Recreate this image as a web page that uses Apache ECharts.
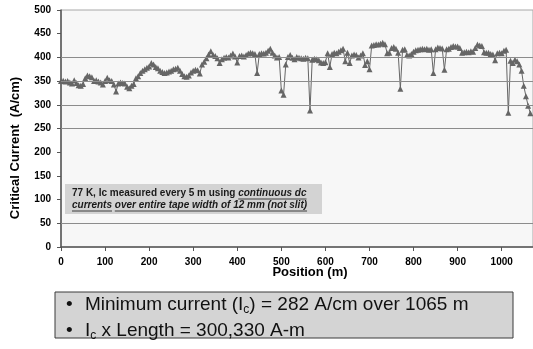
<!DOCTYPE html>
<html><head><meta charset="utf-8">
<script src="https://cdn.jsdelivr.net/npm/echarts@6/dist/echarts.min.js"></script>
<style>html,body{margin:0;padding:0;background:#fff}#c{width:533px;height:349px}</style>
</head><body><div id="c"></div>
<script>
// Position step (m) between measurements
const positionStep = 5;
// Critical current (A/cm), one value every 5 m from 0 to 1065 m
const currentA = [
350,351,349,350,347,345,352,346,341,340,
344,356,362,360,358,350,352,349,347,343,
350,357,352,350,343,328,345,347,346,345,
338,335,340,344,356,360,367,372,375,378,
381,388,385,380,377,372,369,367,368,370,
372,375,376,378,372,365,360,359,362,368,
372,374,373,366,385,391,398,406,413,405,
403,398,388,396,399,401,400,404,408,402,
389,403,404,402,405,408,410,409,407,367,
407,409,408,410,414,418,410,404,400,401,
330,321,385,401,405,399,396,401,399,398,
397,399,398,288,395,397,396,394,389,388,
390,409,380,407,410,409,412,415,418,392,
410,388,404,406,405,400,404,409,384,392,
375,425,426,428,427,429,431,428,409,410,
420,422,418,410,334,416,417,405,404,407,
412,415,416,417,418,417,418,416,417,367,
417,421,420,419,374,417,418,422,424,423,
423,420,410,411,412,411,413,412,420,427,
425,424,411,410,410,407,406,394,409,410,
409,414,416,283,393,388,395,392,385,372,
340,318,298,282
];
const yTicks = [0,50,100,150,200,250,300,350,400,450,500];
const xTicks = [0,100,200,300,400,500,600,700,800,900,1000];
const gridValues = [50,250,300,350,400];

const yAxisTitle = 'Critical Current  (A/cm)';
const xAxisTitle = 'Position (m)';
const noteLine1 = [['77 K, Ic measured every 5 m using ', false], ['continuous dc', true]];
const noteLine2 = [['currents', true], [' ', false], ['over entire tape width of 12 mm (not slit)', true]];

const FAM = '"Liberation Sans", Arial, sans-serif';
const ctx = document.createElement('canvas').getContext('2d');
function tw(t, f){ ctx.font = f; return ctx.measureText(t).width; }

const seriesData = currentA.map((v,i)=>[i*positionStep, v]);

const graphics = [];
// inner note box
graphics.push({type:'rect', shape:{x:65,y:184,width:257,height:30}, style:{fill:'#d3d3d3'}, z:10});
function noteLine(segs, x0, yc){
  let x = x0;
  segs.forEach(([t, u])=>{
    const f = (u ? 'italic ' : '') + 'bold 10px ' + FAM;
    graphics.push({type:'text', x:x, y:yc, style:{text:t, font:f, fill:'#1a1a1a', verticalAlign:'middle', align:'left'}, z:11});
    const w = tw(t, f);
    if (u) graphics.push({type:'line', shape:{x1:x, y1:yc+5.5, x2:x+w, y2:yc+5.5}, style:{stroke:'#1a1a1a', lineWidth:0.8}, z:11});
    x += w;
  });
}
noteLine(noteLine1, 72, 193.5);
noteLine(noteLine2, 72, 205.5);

// axis titles
graphics.push({type:'text', x:15, y:148, rotation:Math.PI/2, style:{text:yAxisTitle, font:'bold 13px '+FAM, fill:'#000', align:'center', verticalAlign:'middle'}});
graphics.push({type:'text', x:310, y:272.5, style:{text:xAxisTitle, font:'bold 13px '+FAM, fill:'#000', align:'center', verticalAlign:'middle'}});

// bottom summary box
graphics.push({type:'rect', shape:{x:55,y:292,width:458,height:46}, style:{fill:'#d4d4d4', stroke:'#3a3a3a', lineWidth:1}});
function seq(parts, x0, yc){
  let x = x0;
  parts.forEach(([t, sub])=>{
    const f = (sub ? '12px ' : '19px ') + FAM;
    graphics.push({type:'text', x:x, y:yc + (sub?5:0), style:{text:t, font:f, fill:'#111', verticalAlign:'middle', align:'left'}});
    x += tw(t, f);
  });
}
seq([['\u2022', false]], 66, 305);
seq([['Minimum current (I', false], ['c', true], [') = 282 A/cm over 1065 m', false]], 85, 305);
seq([['\u2022', false]], 66, 331);
seq([['I', false], ['c', true], [' x Length = 300,330 A-m', false]], 85, 331);

const chart = echarts.init(document.getElementById('c'), null, {renderer:'canvas'});
chart.setOption({
  animation:false,
  backgroundColor:'#ffffff',
  grid:{left:61, right:0, top:10, bottom:102, show:true, backgroundColor:'#f7f7f7', borderColor:'#a8a8a8', borderWidth:1},
  xAxis:{type:'value', min:0, max:1071, interval:100,
    axisLine:{show:true, onZero:false, lineStyle:{color:'#555', width:1.5}},
    axisTick:{show:true, length:4, customValues:xTicks, lineStyle:{color:'#555'}},
    axisLabel:{customValues:xTicks, formatter:v=>String(v), margin:10, color:'#000', fontWeight:'bold', fontSize:10, fontFamily:FAM},
    splitLine:{show:false}},
  yAxis:{type:'value', min:0, max:500, interval:50,
    axisLine:{show:true, lineStyle:{color:'#555', width:1.5}},
    axisTick:{show:true, length:4, lineStyle:{color:'#555'}},
    axisLabel:{margin:10, formatter:v=>String(v), color:'#000', fontWeight:'bold', fontSize:10, fontFamily:FAM},
    splitLine:{show:false}},
  series:[{
    type:'line', data:seriesData, symbol:'triangle', symbolSize:6, showAllSymbol:true,
    itemStyle:{color:'#666666'}, lineStyle:{color:'#666666', width:1},
    markLine:{silent:true, symbol:'none', label:{show:false}, animation:false,
      lineStyle:{color:'#8c8c8c', type:'solid', width:1},
      data:gridValues.map(v=>({yAxis:v}))},
    z:3
  }],
  graphic:graphics
});
</script></body></html>
